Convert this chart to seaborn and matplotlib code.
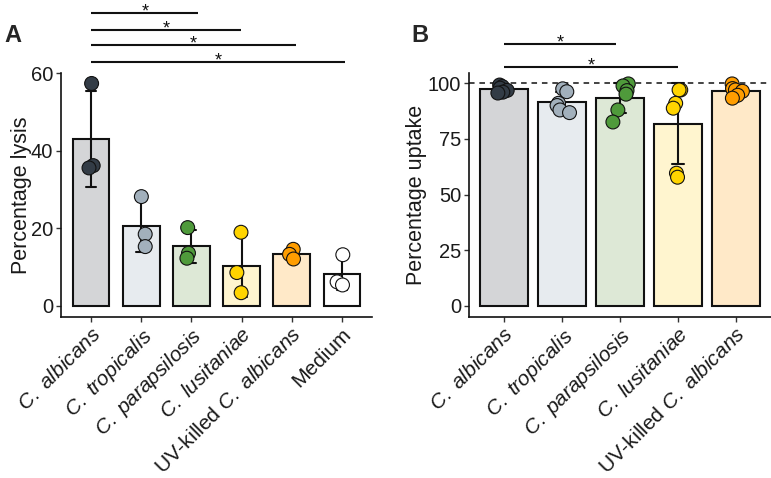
import numpy as np
import pandas as pd
import matplotlib
matplotlib.use("Agg")
import matplotlib.pyplot as plt
import seaborn as sns

# ---------------- data ----------------
categories_a = ["C. albicans", "C. tropicalis", "C. parapsilosis",
                "C. lusitaniae", "UV-killed C. albicans", "Medium"]
tick_labels_a = [r"$\mathit{C.}$ $\mathit{albicans}$", r"$\mathit{C.}$ $\mathit{tropicalis}$",
                 r"$\mathit{C.}$ $\mathit{parapsilosis}$", r"$\mathit{C.}$ $\mathit{lusitaniae}$",
                 r"UV-killed $\mathit{C.}$ $\mathit{albicans}$", "Medium"]
lysis_albicans = [57.4, 36.2, 35.6]
lysis_tropicalis = [28.2, 18.5, 15.3]
lysis_parapsilosis = [20.2, 13.6, 12.3]
lysis_lusitaniae = [19.0, 8.6, 3.4]
lysis_uv_killed = [14.6, 13.3, 12.1]
lysis_medium = [13.2, 6.2, 5.4]

categories_b = categories_a[:5]
tick_labels_b = tick_labels_a[:5]
uptake_albicans = [99.2, 98.5, 97.8, 96.8, 96.0, 95.6]
uptake_tropicalis = [97.5, 96.2, 91.0, 90.0, 88.0, 86.8]
uptake_parapsilosis = [99.7, 98.8, 96.7, 95.1, 88.0, 82.6]
uptake_lusitaniae = [97.0, 97.0, 91.0, 88.8, 59.6, 57.8]
uptake_uv_killed = [99.7, 97.6, 97.0, 96.4, 94.6, 93.3]

point_colors = ["#333c46", "#a2b0bc", "#4f9a3b", "#ffd400", "#ff9d00", "#ffffff"]
bar_colors = ["#d4d5d7", "#e7ebef", "#dde8d6", "#fff5cf", "#ffe9c8", "#ffffff"]

lysis_groups = [lysis_albicans, lysis_tropicalis, lysis_parapsilosis,
                lysis_lusitaniae, lysis_uv_killed, lysis_medium]
uptake_groups = [uptake_albicans, uptake_tropicalis, uptake_parapsilosis,
                 uptake_lusitaniae, uptake_uv_killed]

df_a = pd.DataFrame({"group": [c for c, v in zip(categories_a, lysis_groups) for _ in v],
                     "value": [x for v in lysis_groups for x in v]})
df_b = pd.DataFrame({"group": [c for c, v in zip(categories_b, uptake_groups) for _ in v],
                     "value": [x for v in uptake_groups for x in v]})

# ---------------- style ----------------
sns.set_style("ticks")
plt.rcParams["font.family"] = ["Liberation Sans", "DejaVu Sans"]
plt.rcParams["mathtext.fontset"] = "custom"
plt.rcParams["mathtext.rm"] = "Liberation Sans"
plt.rcParams["mathtext.it"] = "Liberation Sans:italic"
plt.rcParams["lines.scale_dashes"] = False

fig = plt.figure(figsize=(7.71, 4.78), dpi=100)
W, H = 771, 478
ax_a = fig.add_axes([61 / W, 161 / H, 311 / W, 244 / H])
ax_b = fig.add_axes([469 / W, 161 / H, 302 / W, 244 / H])

np.random.seed(3)


def draw(ax, df, cats, labels, width, jitter):
    pal_bar = dict(zip(cats, bar_colors))
    pal_pt = dict(zip(cats, point_colors))
    sns.barplot(data=df, x="group", y="value", hue="group", order=cats,
                hue_order=cats, palette=pal_bar, saturation=1, width=width,
                errorbar="sd", capsize=0.2, edgecolor="#111111", linewidth=1.5,
                err_kws={"color": "#111111", "linewidth": 1.5}, legend=False, ax=ax)
    sns.stripplot(data=df, x="group", y="value", hue="group", order=cats,
                  hue_order=cats, palette=pal_pt, jitter=jitter, size=10,
                  edgecolor="#111111", linewidth=0.8, legend=False, ax=ax, zorder=3)
    ax.set_xticks(range(len(cats)))
    ax.set_xticklabels(labels, rotation=45, ha="right", va="top",
                       rotation_mode="anchor", fontsize=15, color="#1a1a1a")
    ax.set_xlim(-0.6, len(cats) - 0.4)
    ax.set_xlabel("")
    for s in ["top", "right"]:
        ax.spines[s].set_visible(False)
    for s in ["left", "bottom"]:
        ax.spines[s].set_linewidth(1.2)
        ax.spines[s].set_color("#111111")
    ax.tick_params(axis="both", length=3.5, width=1.0, color="#333333",
                   pad=2, labelcolor="#1a1a1a")
    ax.tick_params(axis="y", labelsize=14.5)


draw(ax_a, df_a, categories_a, tick_labels_a, 0.73, 0.1)
draw(ax_b, df_b, categories_b, tick_labels_b, 0.82, 0.15)

ax_a.set_ylim(-2.87, 60.1)
ax_a.set_yticks([0, 20, 40, 60])
ax_b.set_ylim(-4.98, 104.6)
ax_b.set_yticks([0, 25, 50, 75, 100])

ax_a.set_ylabel("Percentage lysis", fontsize=15.5, color="#1a1a1a")
ax_b.set_ylabel("Percentage uptake", fontsize=15.5, color="#1a1a1a")
ax_a.yaxis.set_label_coords(-29 / 311, 0.5)
ax_b.yaxis.set_label_coords(-42 / 302, 0.5)

ax_b.axhline(100, color="#111111", linewidth=1.1, dashes=(4, 3.5), zorder=1.5)

# significance annotations
sig_a = [(0, 2.14, 75.6), (0, 2.98, 71.3), (0, 4.09, 67.2), (0, 5.06, 62.9)]
sig_b = [(0, 1.93, 117.5), (0, 3.0, 107.5)]
for ax, sigs in ((ax_a, sig_a), (ax_b, sig_b)):
    for x0, x1, y in sigs:
        ax.plot([x0, x1], [y, y], color="#111111", linewidth=1.5,
                clip_on=False, solid_capstyle="butt")
        ax.annotate("*", xy=((x0 + x1) / 2, y), xytext=(0, -2.5),
                    textcoords="offset points", ha="center", va="baseline",
                    fontsize=13, annotation_clip=False, color="#111111")

fig.text(4 / W, 1 - 42 / H, "A", fontsize=17, fontweight="bold", va="baseline")
fig.text(411 / W, 1 - 42 / H, "B", fontsize=17, fontweight="bold", va="baseline")

fig.savefig("out.png", dpi=100)
